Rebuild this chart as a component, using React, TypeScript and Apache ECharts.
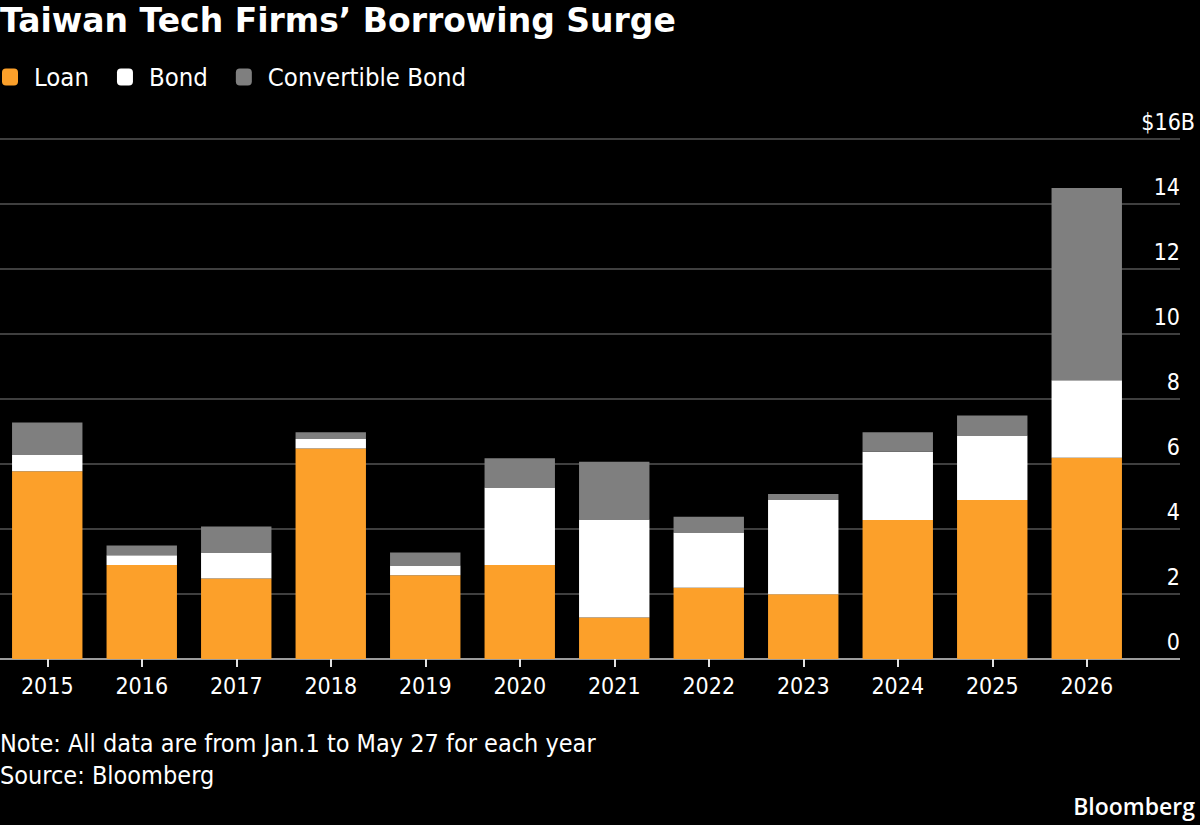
import React, { useEffect, useRef } from "react";
import * as echarts from "echarts";

const years = ["2015", "2016", "2017", "2018", "2019", "2020", "2021", "2022", "2023", "2024", "2025", "2026"];
const loan = [5.78, 2.89, 2.48, 6.48, 2.58, 2.89, 1.28, 2.19, 1.99, 4.28, 4.89, 6.19];
const bond = [0.5, 0.3, 0.8, 0.29, 0.3, 2.39, 3.01, 1.7, 2.9, 2.1, 1.99, 2.39];
const convertible = [1.0, 0.3, 0.8, 0.21, 0.4, 0.9, 1.78, 0.49, 0.19, 0.6, 0.61, 5.91];

const COND = "'DejaVu Sans Condensed', 'Liberation Sans Narrow', 'Open Sans', sans-serif";

export default function App() {
  const ref = useRef<HTMLDivElement>(null);
  useEffect(() => {
    if (!ref.current) return;
    const chart = echarts.init(ref.current, null, { renderer: "svg" });
    chart.setOption({
      animation: false,
      backgroundColor: "#000",
      title: {
        text: "Taiwan Tech Firms\u2019 Borrowing Surge",
        left: 0,
        top: 4,
        padding: 0,
        textStyle: { color: "#fff", fontSize: 33, fontWeight: "bold", fontFamily: "'DejaVu Sans', sans-serif" },
      },
      legend: {
        left: 2,
        top: 64,
        padding: 0,
        itemWidth: 16,
        itemHeight: 17,
        itemGap: 28,
        icon: "roundRect",
        textStyle: { color: "#fff", fontSize: 25.5, fontFamily: COND, padding: [0, 0, 0, 11] },
        data: ["Loan", "Bond", "Convertible Bond"],
      },
      grid: [
        { left: 0, right: 20, top: 139, bottom: 166 },
        { left: 0, right: 66, top: 139, bottom: 166 },
      ],
      xAxis: [
        { gridIndex: 0, type: "value", min: 0, max: 1, show: false },
        {
          gridIndex: 1,
          type: "category",
          data: years,
          axisLine: { show: false },
          axisTick: { show: true, alignWithLabel: true, length: 8, lineStyle: { color: "#e0e0e0", width: 2 } },
          axisLabel: { color: "#fff", fontSize: 23, margin: 15, fontFamily: COND },
        },
      ],
      yAxis: [
        {
          gridIndex: 0,
          type: "value",
          position: "right",
          min: 0,
          max: 16,
          interval: 2,
          axisLine: { show: false },
          axisTick: { show: false },
          splitLine: {
            show: true,
            lineStyle: { color: ["#cfcfcf", "#555", "#555", "#555", "#555", "#555", "#555", "#555", "#555"], width: 1.5 },
          },
          axisLabel: {
            inside: true,
            verticalAlign: "bottom",
            margin: -15,
            color: "#fff",
            fontSize: 23,
            fontFamily: COND,
            formatter: (v: number) => (v === 16 ? "{a|$16B}" : "{b|" + v + "}"),
            rich: {
              a: { color: "#fff", fontSize: 23, fontFamily: COND, padding: [0, 0, 6, 0] },
              b: { color: "#fff", fontSize: 23, fontFamily: COND, padding: [0, 15, 6, 0] },
            },
          },
        },
        { gridIndex: 1, type: "value", min: 0, max: 16, interval: 2, show: false },
      ],
      series: [
        { name: "Loan", type: "bar", stack: "t", xAxisIndex: 1, yAxisIndex: 1, barWidth: "74.5%", data: loan, itemStyle: { color: "#FCA02A" } },
        { name: "Bond", type: "bar", stack: "t", xAxisIndex: 1, yAxisIndex: 1, barWidth: "74.5%", data: bond, itemStyle: { color: "#FFFFFF" } },
        { name: "Convertible Bond", type: "bar", stack: "t", xAxisIndex: 1, yAxisIndex: 1, barWidth: "74.5%", data: convertible, itemStyle: { color: "#7F7F7F" } },
      ],
      graphic: [
        { type: "text", left: 0, top: 731, style: { text: "Note: All data are from Jan.1 to May 27 for each year", fill: "#fff", fontSize: 25, fontFamily: COND } },
        { type: "text", left: 0, top: 763, style: { text: "Source: Bloomberg", fill: "#fff", fontSize: 25, fontFamily: COND } },
        { type: "text", right: 5, top: 794, style: { text: "Bloomberg", fill: "#fff", fontSize: 23, fontWeight: 600, fontFamily: "'Open Sans', sans-serif" } },
      ],
    });
    return () => chart.dispose();
  }, []);
  return <div ref={ref} style={{ position: "absolute", left: 0, top: 0, width: 1200, height: 825, background: "#000" }} />;
}
